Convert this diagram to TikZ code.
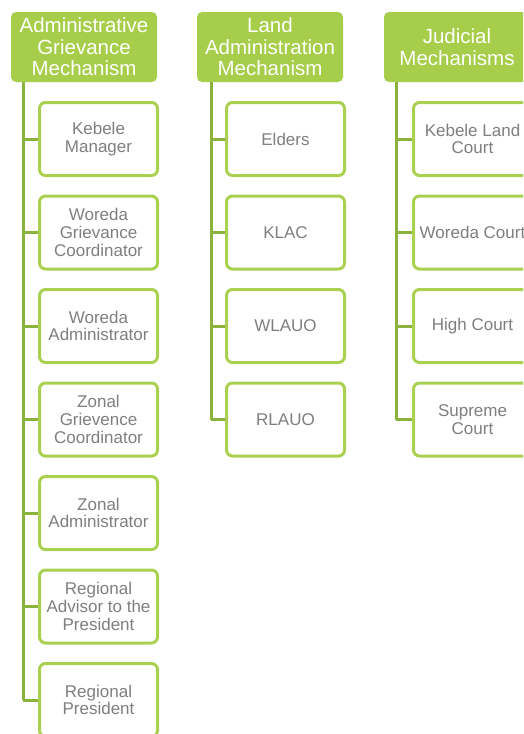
\documentclass[tikz,border=0pt]{standalone}
\usepackage{fontspec}
\setmainfont{Liberation Sans}
\definecolor{hdrgreen}{HTML}{A6CE4A}
\definecolor{boxgreen}{HTML}{AAD050}
\definecolor{linegreen}{HTML}{8BB23C}
\definecolor{textgray}{HTML}{7F7F7F}
\begin{document}
\begin{tikzpicture}[x=1pt,y=-1pt,
 hdr/.style={fill=hdrgreen, rounded corners=5pt, minimum width=146pt, minimum height=70pt, inner sep=0pt, text=white, align=center, font=\fontsize{20.5}{21.5}\selectfont},
 item/.style={draw=boxgreen, line width=3pt, fill=white, rounded corners=6pt, minimum width=118pt, minimum height=73pt, inner sep=0pt, text=textgray, align=center, font=\fontsize{17}{17.8}\selectfont},
 conn/.style={draw=linegreen, line width=3pt}]
\useasboundingbox (0,0) rectangle (523,734);
\clip (0,0) rectangle (523,734);
\fill[white] (0,0) rectangle (523,734);
% headers
\node[hdr] (h1) at (84,47) {Administrative\\Grievance\\Mechanism};
\node[hdr] (h2) at (270,47) {Land\\Administration\\Mechanism};
\node[hdr] (h3) at (457,47) {Judicial\\Mechanisms};
% spine coordinates
\coordinate (l1) at (23,82);
\coordinate (l2) at (211,82);
\coordinate (l3) at (396,82);
% column 1
\node[item] (a1) at (98.5,139) {Kebele\\Manager};
\node[item] (a2) at (98.5,232.5) {Woreda\\Grievance\\Coordinator};
\node[item] (a3) at (98.5,326) {Woreda\\Administrator};
\node[item] (a4) at (98.5,419.5) {Zonal\\Grievence\\Coordinator};
\node[item] (a5) at (98.5,513) {Zonal\\Administrator};
\node[item] (a6) at (98.5,606.5) {Regional\\Advisor to the\\President};
\node[item] (a7) at (98.5,700) {Regional\\President};
% column 2
\node[item] (b1) at (285.5,139) {Elders};
\node[item] (b2) at (285.5,232.5) {KLAC};
\node[item] (b3) at (285.5,326) {WLAUO};
\node[item] (b4) at (285.5,419.5) {RLAUO};
% column 3
\node[item] (c1) at (472.5,139) {Kebele Land\\Court};
\node[item] (c2) at (472.5,232.5) {Woreda Court};
\node[item] (c3) at (472.5,326) {High Court};
\node[item] (c4) at (472.5,419.5) {Supreme\\Court};
% connectors
\draw[conn] (l1) -- (l1 |- a7.west);
\foreach \n in {a1,a2,a3,a4,a5,a6,a7} \draw[conn] (l1 |- \n.west) -- (\n.west);
\draw[conn] (l2) -- (l2 |- b4.west);
\foreach \n in {b1,b2,b3,b4} \draw[conn] (l2 |- \n.west) -- (\n.west);
\draw[conn] (l3) -- (l3 |- c4.west);
\foreach \n in {c1,c2,c3,c4} \draw[conn] (l3 |- \n.west) -- (\n.west);
\end{tikzpicture}
\end{document}
